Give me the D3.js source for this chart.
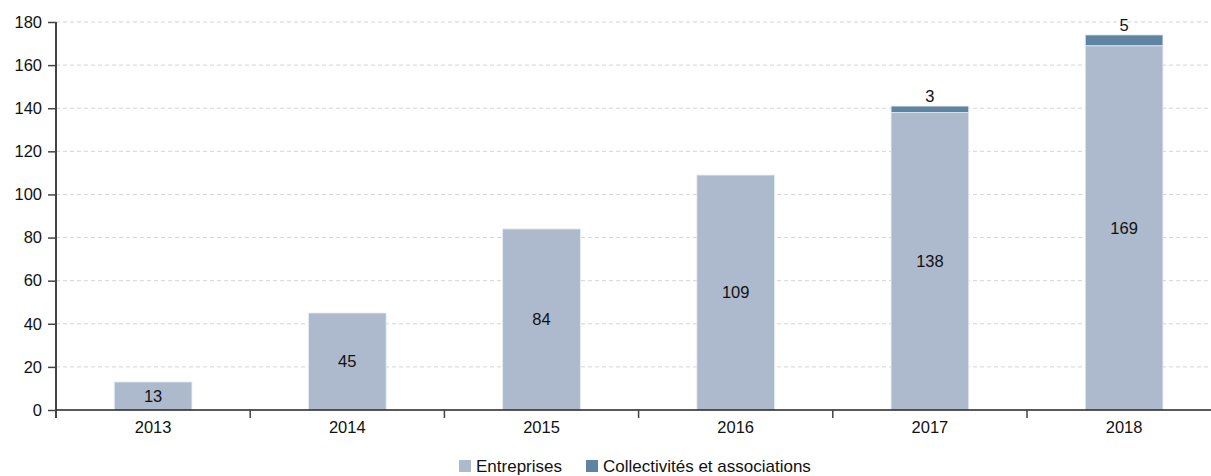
<!DOCTYPE html>
<html>
<head>
<meta charset="utf-8">
<script src="https://cdn.jsdelivr.net/npm/d3@7"></script>
<style>
  body { margin: 0; background: #fff; }
  svg { display: block; font-family: "Liberation Sans", Arial, Helvetica, sans-serif; }
</style>
</head>
<body>
<svg id="chart" width="1211" height="476"></svg>
<script>
// Yearly counts, split by type of organisation
const years = ["2013", "2014", "2015", "2016", "2017", "2018"];
const entreprises = [13, 45, 84, 109, 138, 169];
const collectivites = [0, 0, 0, 0, 3, 5];
const seriesNames = ["Entreprises", "Collectivités et associations"];
const seriesColors = ["#adbacd", "#5f84a2"];
const yTicks = [0, 20, 40, 60, 80, 100, 120, 140, 160, 180];

const svg = d3.select("#chart");
const plotLeft = 56, plotTop = 22, plotBottom = 410;
const bandW = 194.2;
const fontSize = 16.5;

const x = d3.scaleBand().domain(years).range([plotLeft, plotLeft + bandW * years.length]).paddingInner(0).paddingOuter(0);
const y = d3.scaleLinear().domain([0, 180]).range([plotBottom, plotTop]);

// horizontal dashed gridlines
svg.append("g").selectAll("line").data(yTicks.filter(d => d > 0)).join("line")
  .attr("x1", plotLeft).attr("x2", 1211)
  .attr("y1", d => y(d)).attr("y2", d => y(d))
  .attr("stroke", "#d4d4d4").attr("stroke-dasharray", "4,3").attr("stroke-width", 1);

const rows = years.map((yr, i) => ({ year: yr, e: entreprises[i], c: collectivites[i] }));
const barW = bandW * 0.4;

const g = svg.append("g");
// Entreprises segment
g.selectAll("rect.e").data(rows).join("rect").attr("class", "e")
  .attr("x", d => x(d.year) + (bandW - barW) / 2)
  .attr("width", barW)
  .attr("y", d => y(d.e))
  .attr("height", d => y(0) - y(d.e))
  .attr("fill", seriesColors[0])
  .attr("stroke", "#e6ebf2").attr("stroke-width", 0.8);
// Collectivités segment stacked on top
g.selectAll("rect.c").data(rows.filter(d => d.c > 0)).join("rect").attr("class", "c")
  .attr("x", d => x(d.year) + (bandW - barW) / 2)
  .attr("width", barW)
  .attr("y", d => y(d.e + d.c))
  .attr("height", d => y(d.e) - y(d.e + d.c))
  .attr("fill", seriesColors[1])
  .attr("stroke", "#e6ebf2").attr("stroke-width", 0.8);

// value labels
g.selectAll("text.e").data(rows).join("text").attr("class", "e")
  .attr("x", d => x(d.year) + bandW / 2)
  .attr("y", d => y(d.e / 2))
  .attr("dy", "0.35em")
  .attr("text-anchor", "middle")
  .attr("font-size", fontSize).attr("fill", "#111")
  .text(d => d.e);
g.selectAll("text.c").data(rows.filter(d => d.c > 0)).join("text").attr("class", "c")
  .attr("x", d => x(d.year) + bandW / 2)
  .attr("y", d => y(d.e + d.c) - 4)
  .attr("text-anchor", "middle")
  .attr("font-size", fontSize).attr("fill", "#111")
  .text(d => d.c);

// y axis
const yAxis = svg.append("g").attr("transform", `translate(${plotLeft},0)`)
  .call(d3.axisLeft(y).tickValues(yTicks).tickSize(8).tickPadding(6));
yAxis.select(".domain").attr("stroke", "#444").attr("stroke-width", 2).attr("d", `M0,${plotTop}V${plotBottom + 8}`);
yAxis.selectAll(".tick line").attr("stroke", "#444").attr("stroke-width", 1.5);
yAxis.selectAll("text").attr("font-size", fontSize).attr("fill", "#111").attr("font-family", "Liberation Sans, Arial, sans-serif");

// x axis with ticks at band boundaries
const xAxis = svg.append("g").attr("transform", `translate(0,${plotBottom})`);
xAxis.append("line").attr("x1", plotLeft).attr("x2", 1211).attr("y1", 0).attr("y2", 0)
  .attr("stroke", "#222").attr("stroke-width", 1.5);
xAxis.selectAll("line.tk").data(years).join("line").attr("class", "tk")
  .attr("x1", d => x(d)).attr("x2", d => x(d))
  .attr("y1", 0).attr("y2", 8)
  .attr("stroke", "#444").attr("stroke-width", 1.5);
xAxis.selectAll("text").data(years).join("text")
  .attr("x", d => x(d) + bandW / 2)
  .attr("y", 23)
  .attr("text-anchor", "middle")
  .attr("font-size", fontSize).attr("fill", "#111")
  .text(d => d);

// legend
const legend = svg.append("g").attr("transform", "translate(459,460)");
const legX = [0, 127];
seriesNames.forEach((name, i) => {
  const lg = legend.append("g").attr("transform", `translate(${legX[i]},0)`);
  lg.append("rect").attr("width", 12).attr("height", 12).attr("fill", seriesColors[i]);
  lg.append("text").attr("x", 17).attr("y", 12).attr("font-size", fontSize + 0.5).attr("fill", "#111").text(name);
});
</script>
</body>
</html>
